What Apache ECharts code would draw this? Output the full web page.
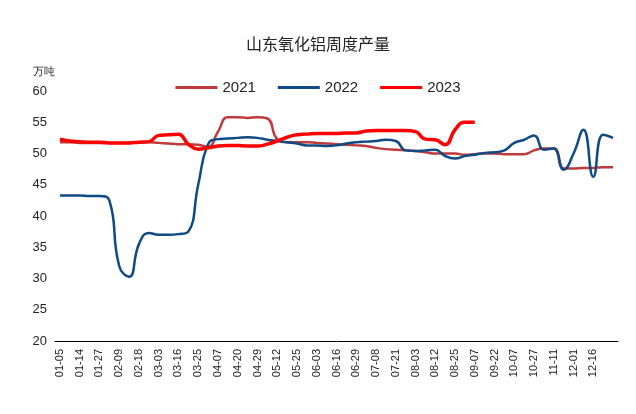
<!DOCTYPE html>
<html>
<head>
<meta charset="utf-8">
<script src="https://cdn.jsdelivr.net/npm/echarts@6/dist/echarts.min.js"></script>
<style>html,body{margin:0;padding:0;background:#fff}</style>
</head>
<body>
<div id="main" style="width:636px;height:414px;"></div>
<script>
// 横轴日期（每周一个点，隔一个显示）
var dates = ['01-05','01-09','01-14','01-20','01-27','02-02','02-09','02-13','02-18','02-24','03-03','03-09','03-16','03-20','03-25','03-31','04-07','04-14','04-20','04-25','04-29','05-06','05-12','05-19','05-25','05-30','06-03','06-09','06-16','06-23','06-29','07-02','07-08','07-15','07-21','07-28','08-03','08-07','08-12','08-18','08-25','09-01','09-07','09-14','09-22','09-29','10-07','10-14','10-27','11-03','11-11','11-18','12-01','12-08','12-16','12-23','12-30'];
var y2021 = [51.8,51.8,51.7,51.7,51.7,51.7,51.7,51.7,51.8,51.8,51.7,51.6,51.5,51.5,51.4,51.1,53.5,55.8,55.8,55.7,55.8,55.6,52.3,51.8,51.8,51.8,51.7,51.6,51.5,51.4,51.3,51.2,50.9,50.7,50.6,50.5,50.4,50.2,50.0,50.0,50.0,49.8,49.9,50.0,50.0,49.9,49.9,49.9,50.5,50.8,50.8,47.6,47.6,47.7,47.7,47.8,47.8];
var y2022 = [43.3,43.3,43.3,43.2,43.2,42.5,32,30.3,35.5,37.3,37,37,37.1,37.5,45,51.5,52.3,52.4,52.5,52.6,52.5,52.2,52,51.8,51.6,51.3,51.3,51.2,51.3,51.6,51.8,51.9,52,52.2,52,50.5,50.4,50.5,50.6,49.6,49.2,49.6,49.8,50.1,50.2,50.5,51.7,52.2,52.9,50.6,50.8,47.4,50.0,53.8,46.3,53.0,52.5];
var y2023 = [52.3,52.0,51.9,51.8,51.8,51.7,51.7,51.7,51.8,51.9,52.9,53.0,53.1,51.5,50.7,50.9,51.2,51.3,51.3,51.2,51.2,51.5,52.0,52.6,53.0,53.1,53.2,53.2,53.2,53.3,53.3,53.6,53.7,53.7,53.7,53.7,53.5,52.3,52.2,51.4,53.8,55.0,55.0];

var myChart = echarts.init(document.getElementById('main'));
myChart.setOption({
    animation: false,
    title: {
        text: '山东氧化铝周度产量',
        left: 'center',
        top: 31,
        textStyle: {fontSize: 16, fontWeight: 'normal', color: '#222', fontFamily: 'Noto Sans CJK SC'}
    },
    legend: {
        top: 75,
        left: 'center',
        itemWidth: 42,
        itemGap: 22,
        icon: 'rect',
        itemHeight: 3,
        textStyle: {fontSize: 15, color: '#222'},
        data: ['2021', '2022', '2023']
    },
    grid: {left: 55, right: 18, top: 91, bottom: 73},
    xAxis: {
        type: 'category',
        data: dates,
        axisLine: {lineStyle: {color: '#000'}},
        axisTick: {show: false},
        axisLabel: {
            interval: function (i) { return i % 2 === 0 && i < dates.length - 1; },
            rotate: 90, color: '#222', fontSize: 11
        }
    },
    yAxis: {
        type: 'value',
        name: '万吨',
        nameGap: 14,
        nameTextStyle: {color: '#222', fontSize: 11, align: 'right'},
        min: 20, max: 60, interval: 5,
        splitLine: {show: false},
        axisLine: {show: false},
        axisTick: {show: false},
        axisLabel: {color: '#222', fontSize: 13}
    },
    series: [
        {name: '2021', type: 'line', smooth: true, symbol: 'none', data: y2021, itemStyle: {color: '#c0393b'}, lineStyle: {width: 2.5}},
        {name: '2022', type: 'line', smooth: true, symbol: 'none', data: y2022, itemStyle: {color: '#0e4a84'}, lineStyle: {width: 2.5}},
        {name: '2023', type: 'line', smooth: true, symbol: 'none', data: y2023, itemStyle: {color: '#ff0000'}, lineStyle: {width: 3.5}}
    ]
});
</script>
</body>
</html>
